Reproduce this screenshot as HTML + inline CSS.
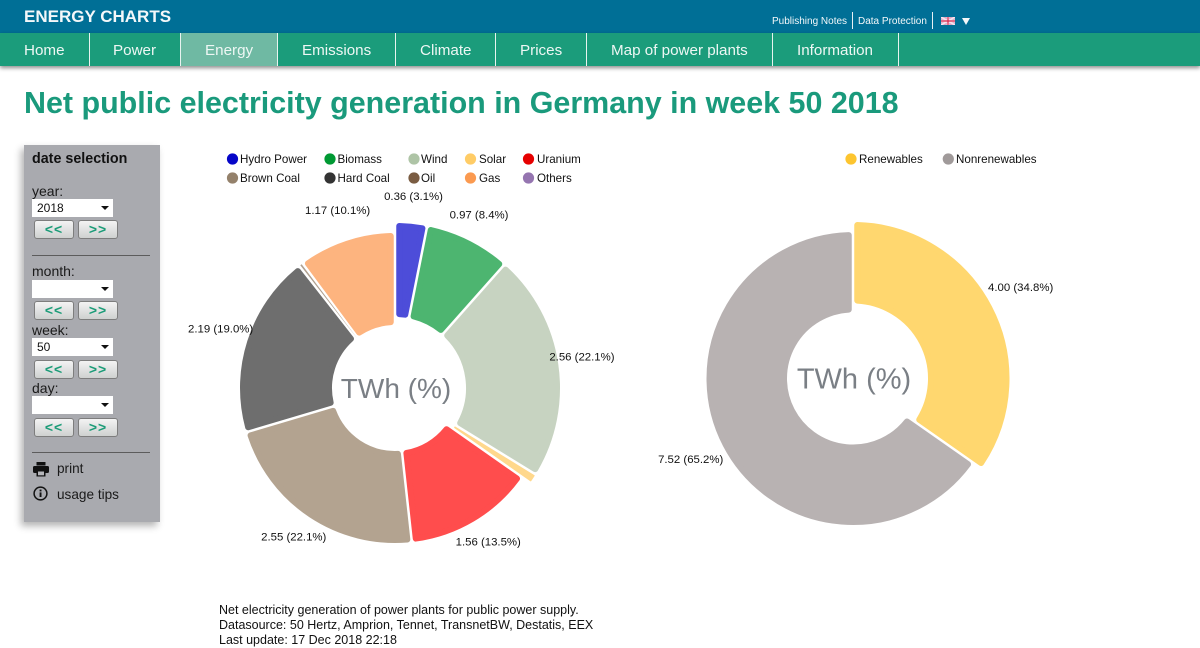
<!DOCTYPE html>
<html lang="en">
<head>
<meta charset="utf-8">
<title>Net public electricity generation in Germany in week 50 2018</title>
<style>
html,body{margin:0;padding:0;background:#fff;}
body{position:relative;width:1200px;height:648px;overflow:hidden;font-family:"Liberation Sans",Arial,sans-serif;color:#111;}
.abs{position:absolute;white-space:nowrap;}
#topbar{position:absolute;left:0;top:0;width:1200px;height:33px;background:#006f96;}
#navbar{position:absolute;left:0;top:33px;width:1200px;height:33px;background:#1b9c7b;box-shadow:0 2px 4px rgba(0,0,0,.45);}
.nav-sep{position:absolute;top:0;width:1px;height:33px;background:#e8f3ef;}
.nav-item{position:absolute;top:0;height:33px;line-height:36px;font-size:15.2px;color:#eef7f4;white-space:nowrap;}
#nav-active{position:absolute;left:181px;top:0;width:96px;height:33px;background:#6fb9a3;}
#side{position:absolute;left:24px;top:145px;width:136px;height:377px;background:#a9aaaf;box-shadow:-3px 4px 7px rgba(0,0,0,.3);}
.lbl{position:absolute;left:32px;font-size:14px;line-height:16px;color:#1a1a1a;white-space:nowrap;}
.sel{position:absolute;left:32px;width:81px;height:18px;background:#fff;font-size:12px;line-height:18px;color:#111;text-indent:5px;}
.sel:after{content:"";position:absolute;right:4px;top:7px;border-left:4px solid transparent;border-right:4px solid transparent;border-top:4px solid #111;}
.btn{position:absolute;width:38px;height:17px;border:1px solid #7d7d7d;border-radius:3px;background:linear-gradient(#f3f3f3,#cfd1d0);color:#1c9c78;font-size:14px;font-weight:bold;line-height:16px;text-align:center;letter-spacing:1px;}
.hr{position:absolute;left:32px;width:118px;height:1px;background:#5c5c5c;}
</style>
</head>
<body>
<div id="topbar"></div>
<div class="abs" style="left:24px;top:7px;font-size:17px;line-height:20px;font-weight:bold;color:#f4f8fa;">ENERGY CHARTS</div>
<div class="abs" style="left:772px;top:15px;font-size:10px;line-height:13px;color:#f4f8fa;">Publishing Notes</div>
<div class="abs" style="left:852px;top:12px;width:1px;height:17px;background:#e8f0f4;"></div>
<div class="abs" style="left:858px;top:15px;font-size:10px;line-height:13px;color:#f4f8fa;">Data Protection</div>
<div class="abs" style="left:932px;top:12px;width:1px;height:17px;background:#e8f0f4;"></div>
<svg class="abs" style="left:941px;top:17px;" width="14" height="8" viewBox="0 0 14 8">
<rect width="14" height="8" fill="#d9a6c6"/>
<path d="M0 0L14 8M14 0L0 8" stroke="#f5e6ee" stroke-width="1.6"/>
<path d="M7 0V8M0 4H14" stroke="#f5e6ee" stroke-width="2.4"/>
<path d="M7 0V8M0 4H14" stroke="#d8234a" stroke-width="1.2"/>
</svg>
<div class="abs" style="left:962px;top:18px;width:0;height:0;border-left:4px solid transparent;border-right:4px solid transparent;border-top:7px solid #f4f8fa;"></div>

<div id="navbar">
<div id="nav-active"></div>
<div class="nav-sep" style="left:89px"></div>
<div class="nav-sep" style="left:180px"></div>
<div class="nav-sep" style="left:277px"></div>
<div class="nav-sep" style="left:395px"></div>
<div class="nav-sep" style="left:495px"></div>
<div class="nav-sep" style="left:586px"></div>
<div class="nav-sep" style="left:772px"></div>
<div class="nav-sep" style="left:898px"></div>
<div class="nav-item" style="left:24px">Home</div>
<div class="nav-item" style="left:113px">Power</div>
<div class="nav-item" style="left:205px">Energy</div>
<div class="nav-item" style="left:302px">Emissions</div>
<div class="nav-item" style="left:420px">Climate</div>
<div class="nav-item" style="left:520px">Prices</div>
<div class="nav-item" style="left:611px">Map of power plants</div>
<div class="nav-item" style="left:797px">Information</div>
</div>

<div class="abs" style="left:24px;top:85px;font-size:30.45px;line-height:36px;font-weight:bold;color:#1a9a7c;">Net public electricity generation in Germany in week 50 2018</div>

<div id="side"></div>
<div class="abs" style="left:32px;top:151px;font-size:14.3px;line-height:16px;font-weight:bold;color:#111;">date selection</div>

<div class="lbl" style="top:183px">year:</div>
<div class="sel" style="top:199px">2018</div>
<div class="btn" style="left:34px;top:220px">&lt;&lt;</div>
<div class="btn" style="left:78px;top:220px">&gt;&gt;</div>
<div class="hr" style="top:255px"></div>

<div class="lbl" style="top:263px">month:</div>
<div class="sel" style="top:280px"></div>
<div class="btn" style="left:34px;top:301px">&lt;&lt;</div>
<div class="btn" style="left:78px;top:301px">&gt;&gt;</div>

<div class="lbl" style="top:322px">week:</div>
<div class="sel" style="top:338px">50</div>
<div class="btn" style="left:34px;top:360px">&lt;&lt;</div>
<div class="btn" style="left:78px;top:360px">&gt;&gt;</div>

<div class="lbl" style="top:380px">day:</div>
<div class="sel" style="top:396px"></div>
<div class="btn" style="left:34px;top:418px">&lt;&lt;</div>
<div class="btn" style="left:78px;top:418px">&gt;&gt;</div>
<div class="hr" style="top:452px"></div>

<svg class="abs" style="left:33px;top:461px;" width="16" height="16" viewBox="0 0 16 16">
<rect x="3.5" y="1" width="9" height="3.5" fill="#111"/>
<rect x="0" y="5" width="16" height="7" rx="1.5" fill="#111"/>
<rect x="3.5" y="9.5" width="9" height="6" fill="#111"/>
<rect x="5" y="10.5" width="6" height="3.8" fill="#b5b6ba"/>
</svg>
<div class="abs" style="left:57px;top:461px;font-size:13.6px;line-height:16px;color:#1a1a1a;">print</div>
<svg class="abs" style="left:33px;top:486px;" width="15" height="15" viewBox="0 0 15 15">
<circle cx="7.5" cy="7.5" r="6.4" fill="none" stroke="#111" stroke-width="1.5"/>
<rect x="6.6" y="6.4" width="1.9" height="4.6" fill="#111"/>
<rect x="6.6" y="3.6" width="1.9" height="1.8" fill="#111"/>
</svg>
<div class="abs" style="left:57px;top:487px;font-size:13.6px;line-height:16px;color:#1a1a1a;">usage tips</div>

<svg id="charts" class="abs" style="left:0;top:0;" width="1200" height="648" viewBox="0 0 1200 648"></svg>

<div class="abs" style="left:219px;top:603px;font-size:12.5px;line-height:15px;color:#111;">Net electricity generation of power plants for public power supply.<br>Datasource: 50 Hertz, Amprion, Tennet, TransnetBW, Destatis, EEX<br>Last update: 17 Dec 2018 22:18</div>

<script>
// Source chart data
var sourceNames = ["Hydro Power","Biomass","Wind","Solar","Uranium","Brown Coal","Hard Coal","Oil","Gas","Others"];
var sourceValues = [0.36,0.97,2.56,0.11,1.56,2.55,2.19,0.05,1.17,0];
var sourcePercents = ["3.1","8.4","22.1","1.0","13.5","22.1","19.0","0.4","10.1","0.0"];
var sourceShowLabel = [true,true,true,false,true,true,true,false,true,false];
var sourceRenewable = [true,true,true,true,false,false,false,false,false,false];

// Renewables chart data
var shareNames = ["Renewables","Nonrenewables"];
var shareValues = [4.00,7.52];
var sharePercents = ["34.8","65.2"];
var shareShowLabel = [true,true];
var shareRenewable = [true,false];

var sourceSliceColors = ["#4d4dd9","#4db570","#c7d3c1","#ffd88c","#ff4d4d","#b3a390","#6e6e6e","#b0a090","#fdb47f","#b59fcb"];
var sourceLegendColors = ["#0505c8","#009933","#aec4a6","#ffcc66","#e60000","#94816b","#333333","#7a5c42","#fb9a50","#9575b0"];
var shareSliceColors = ["#ffd76f","#b8b2b2"];
var shareLegendColors = ["#fdc52f","#a09a9a"];

var NS = "http://www.w3.org/2000/svg";
var svg = document.getElementById("charts");

function polar(cx, cy, r, deg) {
  var a = deg * Math.PI / 180;
  return [cx + r * Math.sin(a), cy - r * Math.cos(a)];
}
function angleScale(values) {
  var total = values.reduce(function (s, v) { return s + v; }, 0);
  return function (v) { return v / total * 360; };
}
function slug(s) { return s.toLowerCase().replace(/\s+/g, "-"); }

function sectorPath(cx, cy, r0, r1, a0, a1, pad, c) {
  var half = (a1 - a0) / 2;
  var mid = (a0 + a1) / 2;
  var R1 = r1 - c, R0 = r0 + c, e = pad + c;
  var off1 = Math.min(half - 0.02, Math.asin(Math.min(1, e / R1)) * 180 / Math.PI);
  var off0 = Math.min(half - 0.02, Math.asin(Math.min(1, e / R0)) * 180 / Math.PI);
  var p1 = polar(cx, cy, R1, mid - half + off1);
  var p2 = polar(cx, cy, R1, mid + half - off1);
  var p3 = polar(cx, cy, R0, mid + half - off0);
  var p4 = polar(cx, cy, R0, mid - half + off0);
  var largeOuter = (2 * half - 2 * off1) > 180 ? 1 : 0;
  var largeInner = (2 * half - 2 * off0) > 180 ? 1 : 0;
  return "M" + p1[0] + " " + p1[1] + "A" + R1 + " " + R1 + " 0 " + largeOuter + " 1 " + p2[0] + " " + p2[1] +
    "L" + p3[0] + " " + p3[1] + "A" + R0 + " " + R0 + " 0 " + largeInner + " 0 " + p4[0] + " " + p4[1] + "Z";
}

function drawDonut(cfg) {
  var toAngle = angleScale(cfg.values);
  var start = 0;
  for (var i = 0; i < cfg.values.length; i++) {
    var span = toAngle(cfg.values[i]);
    var end = start + span;
    var grown = cfg.renewable[i];
    var rOuter = grown ? cfg.bigOuter : cfg.outer;
    var rInner = grown ? cfg.bigInner : cfg.inner;
    if (cfg.values[i] > 0) {
      var halfPx = rInner * (span / 2) * Math.PI / 180;
      var corner = Math.max(0, Math.min(3, halfPx - 1.25 - 0.2));
      var path = document.createElementNS(NS, "path");
      path.setAttribute("d", sectorPath(cfg.cx, cfg.cy, rInner, rOuter, start, end, 1.25, corner));
      path.setAttribute("fill", cfg.colors[i]);
      path.setAttribute("stroke", cfg.colors[i]);
      path.setAttribute("stroke-width", 2 * corner);
      path.setAttribute("stroke-linejoin", "round");
      
      
      svg.appendChild(path);
    }
    if (cfg.showLabel[i]) {
      var pos = polar(cfg.cx, cfg.cy, grown ? 189 : 183, start + span / 2);
      var label = document.createElementNS(NS, "text");
      label.setAttribute("x", pos[0]);
      label.setAttribute("y", pos[1]);
      label.setAttribute("text-anchor", "middle");
      label.setAttribute("font-size", "11.4");
      label.setAttribute("fill", "#111");
      label.setAttribute("font-family", '"Liberation Sans",Arial,sans-serif');
      label.textContent = cfg.values[i].toFixed(2) + " (" + cfg.percents[i] + "%)";
      
      
      svg.appendChild(label);
    }
    start = end;
  }
  var center = document.createElementNS(NS, "text");
  center.setAttribute("x", cfg.cx + cfg.textDx);
  center.setAttribute("y", cfg.cy + 10);
  center.setAttribute("text-anchor", "middle");
  center.setAttribute("font-size", cfg.centerSize);
  center.setAttribute("fill", "#7a7f85");
  center.setAttribute("font-family", '"Liberation Sans",Arial,sans-serif');
  center.textContent = "TWh (%)";
  
  
  svg.appendChild(center);
}

function drawLegend(names, colors, xsDot, xsText, rows, perRow) {
  for (var i = 0; i < names.length; i++) {
    var col = i % perRow;
    var row = Math.floor(i / perRow);
    var dot = document.createElementNS(NS, "circle");
    dot.setAttribute("cx", xsDot[col]);
    dot.setAttribute("cy", rows[row]);
    dot.setAttribute("r", 5.6);
    dot.setAttribute("fill", colors[i]);
    
    
    svg.appendChild(dot);
    var t = document.createElementNS(NS, "text");
    t.setAttribute("x", xsText[col]);
    t.setAttribute("y", rows[row] + 4);
    t.setAttribute("font-size", "11.6");
    t.setAttribute("fill", "#111");
    t.setAttribute("font-family", '"Liberation Sans",Arial,sans-serif');
    t.textContent = names[i];
    
    
    svg.appendChild(t);
  }
}

drawDonut({cx:395, cy:388, outer:155, inner:63, bigOuter:165, bigInner:71, textDx:1, centerSize:28,
  names:sourceNames, values:sourceValues, percents:sourcePercents, showLabel:sourceShowLabel,
  renewable:sourceRenewable, colors:sourceSliceColors});
drawDonut({cx:853, cy:378.5, outer:146.5, inner:66, bigOuter:156.5, bigInner:75, textDx:1, centerSize:29,
  names:shareNames, values:shareValues, percents:sharePercents, showLabel:shareShowLabel,
  renewable:shareRenewable, colors:shareSliceColors});

drawLegend(sourceNames, sourceLegendColors, [232.5,330,414,470.5,528.5], [240,337.5,421,479,537], [159,178], 5);
drawLegend(shareNames, shareLegendColors, [851,948.3], [859,956], [159], 2);
</script>
</body>
</html>
